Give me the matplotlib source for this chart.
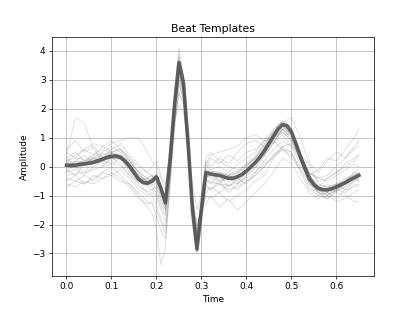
import matplotlib
matplotlib.use('Agg')
import matplotlib.pyplot as plt

# sample times (s), denser around the QRS complex
t = [0.00, 0.02, 0.04, 0.06, 0.08, 0.10, 0.12, 0.14, 0.16, 0.18,
     0.19, 0.20, 0.21, 0.22, 0.23, 0.24, 0.25, 0.26, 0.27, 0.28,
     0.29, 0.30, 0.31, 0.32, 0.34, 0.36, 0.38, 0.40, 0.42, 0.44,
     0.46, 0.48, 0.50, 0.52, 0.54, 0.56, 0.58, 0.60, 0.62, 0.64, 0.65]

# mean beat (thick line), sampled every 10 ms
t_mean = [0.00, 0.01, 0.02, 0.03, 0.04, 0.05, 0.06, 0.07, 0.08, 0.09,
          0.10, 0.11, 0.12, 0.13, 0.14, 0.15, 0.16, 0.17, 0.18, 0.19,
          0.20, 0.21, 0.22, 0.23, 0.24, 0.25, 0.26, 0.27, 0.28, 0.29,
          0.30, 0.31, 0.32, 0.33, 0.34, 0.35, 0.36, 0.37, 0.38, 0.39,
          0.40, 0.41, 0.42, 0.43, 0.44, 0.45, 0.46, 0.47, 0.48, 0.49,
          0.50, 0.51, 0.52, 0.53, 0.54, 0.55, 0.56, 0.57, 0.58, 0.59,
          0.60, 0.61, 0.62, 0.63, 0.64, 0.65]
mean_beat = [0.05, 0.04, 0.05, 0.08, 0.10, 0.12, 0.15, 0.20, 0.26, 0.32,
             0.36, 0.37, 0.32, 0.20, 0.02, -0.20, -0.42, -0.55, -0.57, -0.50,
             -0.35, -0.75, -1.25, 0.20, 2.10, 3.60, 2.90, 0.90, -1.50, -2.85,
             -1.50, -0.20, -0.25, -0.28, -0.30, -0.35, -0.40, -0.40, -0.35, -0.27,
             -0.15, 0.00, 0.15, 0.33, 0.55, 0.80, 1.05, 1.30, 1.45, 1.42,
             1.20, 0.80, 0.35, -0.05, -0.40, -0.62, -0.75, -0.80, -0.80, -0.76,
             -0.70, -0.62, -0.55, -0.46, -0.38, -0.30]

# individual beat templates (thin lines)
templates = [
    [0.2, 0.15, 0.2, 0.3, 0.4, 0.45, 0.4, 0.1, -0.3, -0.45, -0.4, -0.3, -0.6, -1.1, 0.4, 2.4, 3.9, 3.1, 1.0, -1.3, -2.7, -1.4, -0.1, -0.15, -0.2, -0.3, -0.25, 0.0, 0.3, 0.7, 1.2, 1.55, 1.3, 0.5, -0.3, -0.65, -0.7, -0.6, -0.45, -0.3, -0.2],
    [-0.3, -0.25, -0.2, -0.1, 0.0, 0.1, 0.05, -0.3, -0.7, -0.85, -0.8, -0.7, -1.1, -1.5, -0.2, 1.7, 3.2, 2.6, 0.6, -1.7, -2.9, -1.7, -0.5, -0.55, -0.6, -0.65, -0.55, -0.35, -0.05, 0.35, 0.85, 1.3, 1.1, 0.2, -0.55, -0.9, -0.95, -0.85, -0.7, -0.5, -0.45],
    [0.6, 0.9, 0.5, 0.7, 0.3, 0.6, 0.8, 0.4, 0.1, -0.2, 0.0, 0.2, -0.3, -0.6, 0.5, 1.6, 2.1, 1.9, 0.8, -0.6, -1.5, -1.0, -0.1, 0.3, 0.1, 0.4, 0.2, 0.5, 0.6, 0.9, 0.8, 1.1, 0.7, 0.4, 0.1, -0.2, 0.2, 0.5, 0.3, 0.7, 0.9],
    [0.4, 1.7, 1.5, 0.6, 0.2, 0.5, 0.3, -0.2, -0.6, -0.9, -1.0, -1.3, -1.8, -2.1, -0.5, 1.4, 2.8, 2.4, 0.5, -1.2, -2.3, -1.3, -0.6, -0.8, -0.5, -0.9, -0.6, -0.4, -0.2, 0.2, 0.6, 0.9, 0.7, 0.1, -0.6, -0.9, -1.1, -0.8, -0.9, -0.6, -0.7],
    [-0.5, -0.3, -0.6, -0.4, -0.2, 0.0, -0.3, -0.6, -1.0, -1.4, -1.6, -2.2, -3.4, -2.8, -0.5, 1.5, 2.5, 2.2, 0.4, -1.0, -2.0, -1.5, -0.9, -0.7, -0.9, -0.6, -0.8, -0.5, -0.3, 0.0, 0.4, 0.7, 0.8, 0.2, -0.5, -0.8, -1.0, -0.7, -0.5, -0.2, -0.1],
    [0.1, 0.0, 0.15, 0.2, 0.3, 0.35, 0.3, -0.05, -0.5, -0.6, -0.55, -0.4, -0.8, -1.3, 0.1, 2.0, 3.5, 2.8, 0.8, -1.6, -2.9, -1.6, -0.25, -0.3, -0.35, -0.45, -0.4, -0.2, 0.1, 0.5, 1.0, 1.4, 1.15, 0.3, -0.45, -0.8, -0.85, -0.75, -0.6, -0.4, -0.35],
    [0.0, 0.1, 0.05, 0.1, 0.2, 0.3, 0.3, 0.05, -0.4, -0.55, -0.45, -0.3, -0.7, -1.2, 0.3, 2.2, 3.7, 3.0, 1.0, -1.4, -2.8, -1.5, -0.15, -0.2, -0.25, -0.3, -0.2, 0.0, 0.35, 0.75, 1.25, 1.6, 1.35, 0.45, -0.35, -0.7, -0.75, -0.65, -0.5, -0.3, -0.25],
    [-0.2, 0.2, 0.4, 0.1, 0.5, 0.7, 0.5, 0.2, -0.3, -0.5, -0.6, -0.8, -1.2, -1.5, 0.0, 1.9, 3.0, 2.5, 0.7, -1.4, -2.5, -1.4, -0.4, -0.6, -0.3, -0.7, -0.4, -0.6, -0.2, 0.1, 0.3, 0.6, 0.4, 0.0, -0.3, -0.1, 0.3, 0.2, 0.6, 1.0, 1.3],
    [0.3, 0.5, 0.2, 0.4, 0.6, 0.8, 0.9, 1.0, 1.0, 0.5, 0.2, 0.0, -0.4, -0.8, 0.6, 2.3, 3.3, 2.7, 0.9, -1.0, -2.2, -1.2, 0.1, 0.4, 0.5, 0.6, 0.7, 1.0, 1.1, 0.9, 1.0, 1.2, 0.9, 0.3, -0.2, -0.4, -0.5, -0.3, -0.1, 0.1, 0.0],
    [-0.7, -0.5, -0.6, -0.3, -0.4, -0.2, -0.4, -0.7, -1.1, -1.3, -1.2, -1.5, -1.9, -2.3, -0.6, 1.6, 2.9, 2.3, 0.5, -1.3, -2.4, -1.6, -1.0, -1.1, -0.9, -1.2, -1.0, -0.8, -0.5, -0.3, 0.3, 0.7, 0.5, -0.2, -0.8, -1.0, -1.1, -0.9, -1.0, -1.2, -1.2],
    [0.2, 0.3, 0.25, 0.35, 0.45, 0.5, 0.4, 0.1, -0.35, -0.5, -0.4, -0.25, -0.65, -1.15, 0.25, 2.3, 3.8, 3.0, 0.9, -1.5, -2.75, -1.45, -0.2, -0.15, -0.2, -0.25, -0.15, 0.05, 0.3, 0.65, 1.15, 1.5, 1.7, 1.0, 0.1, -0.6, -0.7, -0.6, -0.4, -0.3, -0.2],
    [-0.1, -0.3, 0.1, 0.3, 0.1, 0.2, 0.4, 0.2, -0.2, -0.6, -0.7, -0.9, -1.3, -1.6, 0.1, 2.0, 3.3, 2.7, 0.7, -1.5, -2.7, -1.6, -0.4, -0.5, -0.6, -0.3, -0.5, -0.2, 0.2, 0.4, 0.9, 1.2, 0.9, 0.3, -0.3, -0.7, -0.9, -0.6, -0.8, -0.5, -0.4],
    [0.1, 0.1, 0.2, 0.25, 0.35, 0.4, 0.35, 0.05, -0.4, -0.5, -0.45, -0.35, -0.7, -1.2, 0.5, 2.6, 4.1, 3.2, 1.1, -1.4, -2.95, -1.6, -0.3, -0.3, -0.3, -0.35, -0.3, -0.1, 0.2, 0.6, 1.1, 1.5, 1.25, 0.4, -0.4, -0.8, -0.85, -0.7, -0.55, -0.35, -0.3],
    [0.0, -0.05, 0.05, 0.1, 0.2, 0.3, 0.25, -0.1, -0.55, -0.65, -0.6, -0.45, -0.85, -1.35, 0.0, 1.9, 3.4, 2.8, 0.7, -1.7, -3.05, -1.7, -0.3, -0.35, -0.4, -0.5, -0.45, -0.25, 0.05, 0.45, 0.95, 1.35, 1.1, 0.3, -0.5, -0.85, -0.9, -0.8, -0.65, -0.45, -0.4],
    [0.5, 0.3, 0.6, 0.4, 0.7, 0.5, 0.6, 0.3, 0.0, -0.2, -0.3, -0.5, -0.9, -1.2, 0.3, 2.0, 3.1, 2.6, 0.8, -1.1, -2.3, -1.0, 0.2, 0.0, 0.3, 0.1, 0.5, 0.8, 0.9, 0.7, 0.9, 0.6, 0.3, -0.1, -0.5, -0.7, -0.4, -0.2, 0.1, 0.3, 0.4],
    [-0.4, -0.5, -0.3, -0.5, -0.2, -0.3, -0.1, -0.4, -0.8, -1.0, -0.9, -1.1, -1.5, -1.9, -0.3, 1.8, 3.0, 2.5, 0.6, -1.3, -2.6, -1.5, -0.7, -0.8, -0.6, -0.8, -0.7, -0.5, -0.3, 0.0, 0.4, 0.6, 0.5, -0.1, -0.7, -1.0, -0.9, -1.1, -0.8, -0.7, -0.6],
    [0.3, 0.0, -0.2, 0.2, 0.0, 0.3, 0.1, -0.3, -0.5, -0.4, -0.3, -0.6, -1.0, -1.4, 0.2, 2.1, 3.4, 2.7, 0.8, -1.4, -2.6, -1.4, -0.4, -0.2, -0.5, -0.4, -0.6, -0.3, 0.0, 0.4, 0.8, 1.3, 1.0, 0.2, -0.6, -0.8, -0.6, -0.9, -0.5, -0.2, -0.3],
    [0.15, 0.1, 0.1, 0.2, 0.3, 0.38, 0.35, 0.0, -0.45, -0.6, -0.5, -0.4, -0.8, -1.25, 0.15, 2.1, 3.6, 2.9, 0.85, -1.5, -2.85, -1.5, -0.2, -0.25, -0.3, -0.4, -0.35, -0.15, 0.15, 0.55, 1.05, 1.45, 1.2, 0.35, -0.4, -0.75, -0.8, -0.7, -0.55, -0.38, -0.3],
    [-0.05, 0.0, 0.05, 0.1, 0.2, 0.3, 0.28, -0.05, -0.5, -0.62, -0.55, -0.4, -0.78, -1.28, 0.2, 2.1, 3.55, 2.85, 0.85, -1.55, -2.9, -1.55, -0.25, -0.3, -0.32, -0.42, -0.38, -0.18, 0.12, 0.52, 1.02, 1.42, 1.18, 0.3, -0.45, -0.8, -0.85, -0.72, -0.58, -0.4, -0.32],
    [0.1, 0.1, 0.15, 0.2, 0.3, 0.4, 0.36, 0.05, -0.4, -0.55, -0.48, -0.32, -0.72, -1.22, 0.25, 2.15, 3.65, 2.95, 0.9, -1.45, -2.8, -1.45, -0.18, -0.22, -0.28, -0.38, -0.32, -0.12, 0.18, 0.58, 1.08, 1.48, 1.22, 0.38, -0.38, -0.72, -0.78, -0.68, -0.52, -0.35, -0.28],
    [0.2, 0.4, 0.6, 0.8, 0.7, 0.9, 0.6, 0.2, -0.2, -0.4, -0.3, -0.4, -0.8, -1.2, 0.2, 2.2, 3.5, 2.9, 0.9, -1.3, -2.6, -1.3, 0.1, -0.1, 0.0, -0.2, 0.1, 0.3, 0.5, 0.9, 1.3, 1.55, 1.2, 0.4, -0.2, -0.5, -0.4, -0.2, 0.0, 0.2, 0.4],
    [-0.6, -0.7, -0.5, -0.6, -0.4, -0.3, -0.5, -0.6, -0.9, -1.2, -1.3, -1.7, -2.2, -2.5, -0.8, 1.3, 2.6, 2.2, 0.4, -1.1, -2.1, -1.4, -1.3, -1.0, -1.4, -1.1, -1.5, -1.2, -0.9, -0.6, -0.2, 0.3, 0.1, -0.4, -0.9, -1.1, -1.0, -1.2, -1.1, -0.9, -0.8],
    [-0.2, -0.1, -0.3, 0.0, 0.2, 0.1, 0.3, 0.0, -0.4, -0.7, -0.8, -1.0, -1.4, -1.7, -0.1, 1.9, 3.2, 2.6, 0.7, -1.1, -2.4, -1.0, 0.3, 0.5, 0.2, 0.0, -0.1, 0.1, 0.3, 0.6, 1.0, 1.3, 1.0, 0.2, -0.5, -0.9, -1.0, -0.8, -0.6, -0.4, -0.5],
    [0.0, 0.2, 0.1, 0.3, 0.2, 0.5, 0.6, 0.3, -0.2, -0.4, -0.5, -0.6, -1.0, -1.4, 0.1, 2.0, 3.3, 2.7, 0.8, -1.4, -2.7, -1.4, -0.3, -0.4, -0.5, -0.3, -0.2, 0.1, 0.4, 0.8, 1.2, 1.4, 1.1, 0.4, -0.2, -0.4, -0.3, 0.0, 0.3, 0.6, 0.7],
]

fig = plt.figure(figsize=(415 / 65.0, 310 / 65.0), dpi=65)
ax = fig.add_subplot(111)

for beat in templates:
    ax.plot(t, beat, color='0.4', linewidth=1, alpha=0.22)
ax.plot(t_mean, mean_beat, color='#555555', linewidth=4, alpha=0.9)

ax.set_title('Beat Templates')
ax.set_xlabel('Time')
ax.set_ylabel('Amplitude')
ax.grid(True)

fig.savefig('out.png', dpi=65)
